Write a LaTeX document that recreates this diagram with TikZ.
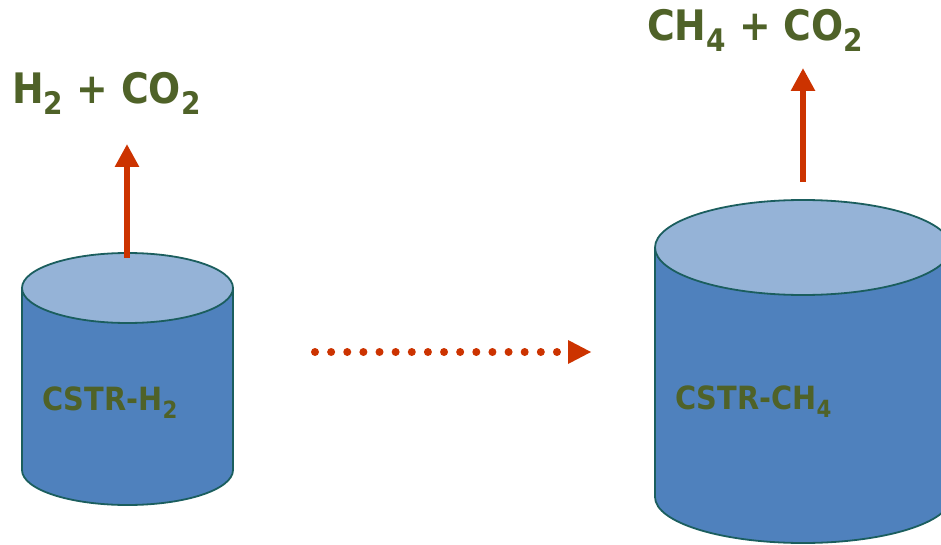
\documentclass[tikz,border=0pt]{standalone}
\usepackage{fontspec}
\setmainfont{DejaVu Sans Condensed}
\usetikzlibrary{arrows.meta,calc}
\definecolor{olivetext}{HTML}{4F6228}
\definecolor{sideblue}{HTML}{4F81BD}
\definecolor{topblue}{HTML}{95B3D7}
\definecolor{rimteal}{HTML}{1B5E5E}
\definecolor{arrowred}{HTML}{CC3300}
\newcommand\dnsub[1]{\raisebox{-0.26em}{\scalebox{0.74}{#1}}}
\tikzset{
  biglabel/.style={anchor=base west, inner sep=0pt, text=olivetext, font=\fontsize{42}{50}\selectfont\bfseries},
  tanklabel/.style={anchor=base west, inner sep=0pt, text=olivetext, font=\fontsize{32}{38}\selectfont\bfseries},
  rim/.style={draw=rimteal, line width=1.8pt},
  gasarrow/.style={draw=arrowred, line width=6.5pt, -{Triangle[width=23pt,length=23pt]}},
  dotline/.style={draw=arrowred, line width=8pt, line cap=round, dash pattern=on 0pt off 16.13pt},
}
\begin{document}
\begin{tikzpicture}[x=1pt,y=-1pt]
\useasboundingbox (0,0) rectangle (941,545);
\clip (0,0) rectangle (941,545);
% left tank
\fill[sideblue] (22,288) -- (22,470) arc[start angle=180,end angle=360,x radius=105.5pt,y radius=35pt] -- (233,288) -- cycle;
\draw[rim] (22,288) -- (22,470) arc[start angle=180,end angle=360,x radius=105.5pt,y radius=35pt] -- (233,288);
\draw[rim, fill=topblue] (127.5,288) ellipse [x radius=105.5pt, y radius=35pt];
% right tank
\fill[sideblue] (655,247.5) -- (655,497) arc[start angle=180,end angle=360,x radius=148pt,y radius=46pt] -- (951,247.5) -- cycle;
\draw[rim] (655,247.5) -- (655,497) arc[start angle=180,end angle=360,x radius=148pt,y radius=46pt] -- (951,247.5);
\draw[rim, fill=topblue] (803,247.5) ellipse [x radius=148pt, y radius=47.5pt];
% labels
\node[biglabel] (gasL) at (12,104) {H\dnsub{2} + CO\dnsub{2}};
\node[biglabel] (gasR) at (647,41) {CH\dnsub{4} + CO\dnsub{2}};
\node[tanklabel] (tankL) at (42,410) {CSTR-H\dnsub{2}};
\node[tanklabel] (tankR) at (675,409) {CSTR-CH\dnsub{4}};
% arrows
\coordinate (lout) at (127,258);
\coordinate (ltip) at (127,144);
\coordinate (rout) at (803,182);
\coordinate (rtip) at (803,68);
\draw[gasarrow] (lout) -- (ltip);
\draw[gasarrow] (rout) -- (rtip);
\coordinate (dstart) at (315,352);
\coordinate (dend) at (560,352);
\coordinate (hbase) at (568,352);
\coordinate (htip) at (591,352);
\draw[dotline] (dstart) -- (dend);
\fill[arrowred] ($(hbase)+(0,-12)$) -- (htip) -- ($(hbase)+(0,12)$) -- cycle;
\end{tikzpicture}
\end{document}
